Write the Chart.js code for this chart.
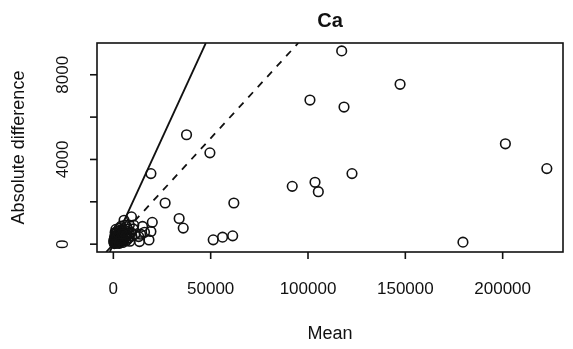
<!DOCTYPE html>
<html>
<head>
<meta charset="utf-8">
<script src="https://cdn.jsdelivr.net/npm/chart.js@4"></script>
<style>
  html, body { margin: 0; padding: 0; background: #fff; }
  #wrap { width: 573px; height: 349px; }
</style>
</head>
<body>
<div id="wrap"><canvas id="chart" width="573" height="349"></canvas></div>
<script>
// Dados (Ca)
const meanValues = [
  117300, 147300, 101000, 118500, 201400, 222700, 122600, 91900, 103600, 105300, 179600,
  37600, 49600, 19300, 26600, 61900, 33800, 35900, 51300, 56100, 61300,
  5500, 9300, 15000, 20000, 19300, 14000, 18300, 13400, 10200, 16000, 13000, 10500,
  500, 800, 1200, 1500, 2000, 2500, 3000, 3500, 4000, 4500, 5000, 5500, 6000, 6500,
  7000, 7500, 8000, 9000, 1000, 2000, 3000, 500, 1500, 4000, 6000, 200, 11000, 2500, 3500,
  300, 700, 1100, 1800, 2200, 2800, 3300, 3800, 4300, 4800, 5300, 5800, 6300, 6800,
  7300, 7800, 8500, 9500, 1300, 2600, 3900, 5200, 6600, 8200, 900, 1700, 3100, 4700
];
const absDiffValues = [
  9128, 7550, 6805, 6474, 4739, 3569, 3332, 2730, 2920, 2479, 95,
  5166, 4313, 3332, 1943, 1943, 1213, 758, 204, 332, 393,
  1130, 1290, 840, 1030, 600, 470, 200, 120, 720, 560, 360, 900,
  30, 80, 50, 150, 100, 300, 200, 450, 120, 600, 350, 250, 500, 150,
  400, 700, 300, 550, 400, 600, 750, 250, 500, 850, 900, 100, 450, 50, 650,
  180, 350, 220, 60, 420, 130, 560, 280, 380, 80, 180, 650, 320, 820,
  230, 480, 140, 380, 700, 500, 280, 600, 420, 900, 550, 280, 40, 480
];
// Retas de referência (abline): inclinação e tipo
const lineSlopes = [0.2, 0.1];
const lineDashes = [[], [7, 7]];

const xTicks = [0, 50000, 100000, 150000, 200000];
const yTicks = [0, 2000, 4000, 6000, 8000];
const yTickLabels = [0, 4000, 8000];

const xMin = -8400, xMax = 231000;
const yMin = -370, yMax = 9500;

const FONT = "'Liberation Sans', Arial, sans-serif";

const points = meanValues.map((m, i) => ({ x: m, y: absDiffValues[i] }));

// abline: recorta a reta y = s*x na caixa do gráfico
const lineSets = lineSlopes.map((s, i) => {
  const x0 = Math.max(xMin, yMin / s);
  const x1 = Math.min(xMax, yMax / s);
  return {
    type: 'line',
    data: [{ x: x0, y: s * x0 }, { x: x1, y: s * x1 }],
    borderColor: '#111',
    borderWidth: 1.8,
    borderDash: lineDashes[i],
    pointRadius: 0,
    fill: false,
    tension: 0
  };
});

// Eixos no estilo R base
const rAxes = {
  id: 'rAxes',
  afterDraw(chart) {
    const { ctx, chartArea: a, scales: { x, y } } = chart;
    ctx.save();
    ctx.strokeStyle = '#111';
    ctx.fillStyle = '#111';
    ctx.lineWidth = 1.6;
    ctx.strokeRect(a.left, a.top, a.right - a.left, a.bottom - a.top);

    // eixo x
    ctx.font = '17px ' + FONT;
    ctx.textAlign = 'center';
    ctx.textBaseline = 'middle';
    xTicks.forEach(v => {
      const px = x.getPixelForValue(v);
      ctx.beginPath();
      ctx.moveTo(px, a.bottom);
      ctx.lineTo(px, a.bottom + 7);
      ctx.stroke();
      ctx.fillText(String(v), px, 289);
    });

    // eixo y
    yTicks.forEach(v => {
      const py = y.getPixelForValue(v);
      ctx.beginPath();
      ctx.moveTo(a.left, py);
      ctx.lineTo(a.left - 7, py);
      ctx.stroke();
    });
    yTickLabels.forEach(v => {
      const py = y.getPixelForValue(v);
      ctx.save();
      ctx.translate(63, py);
      ctx.rotate(-Math.PI / 2);
      ctx.fillText(String(v), 0, 0);
      ctx.restore();
    });

    // títulos
    ctx.font = '18px ' + FONT;
    ctx.fillText('Mean', (a.left + a.right) / 2, 334);
    ctx.save();
    ctx.translate(19, (a.top + a.bottom) / 2);
    ctx.rotate(-Math.PI / 2);
    ctx.fillText('Absolute difference', 0, 0);
    ctx.restore();

    ctx.font = 'bold 20px ' + FONT;
    ctx.fillText('Ca', (a.left + a.right) / 2, 21);
    ctx.restore();
  }
};

new Chart(document.getElementById('chart'), {
  type: 'scatter',
  data: {
    datasets: [
      {
        data: points,
        pointStyle: 'circle',
        pointRadius: 4.8,
        pointBorderWidth: 1.6,
        borderColor: '#111',
        backgroundColor: 'rgba(0,0,0,0)'
      },
      ...lineSets
    ]
  },
  options: {
    responsive: false,
    animation: false,
    layout: { padding: { left: 97, right: 10, top: 43, bottom: 97 } },
    plugins: { legend: { display: false }, tooltip: { enabled: false } },
    scales: {
      x: { type: 'linear', display: false, min: xMin, max: xMax },
      y: { type: 'linear', display: false, min: yMin, max: yMax }
    }
  },
  plugins: [rAxes]
});
</script>
</body>
</html>
